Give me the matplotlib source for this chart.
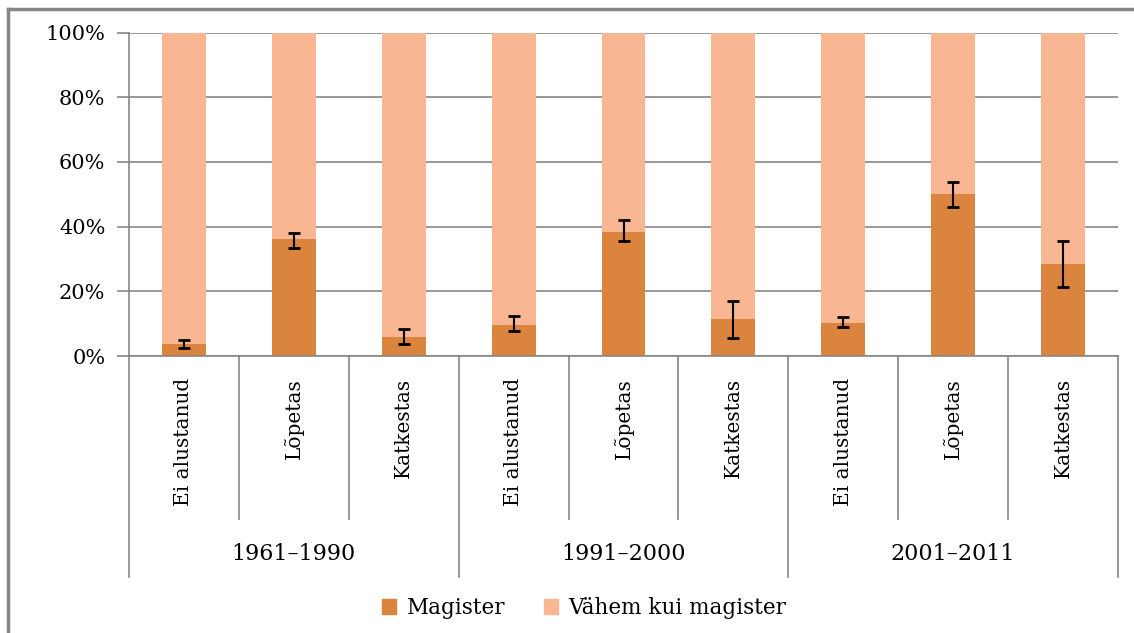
import numpy as np
import matplotlib
matplotlib.use("Agg")
import matplotlib.pyplot as plt
from matplotlib.lines import Line2D
from matplotlib.patches import Patch

# data (share of magister, %)
periods = ["1961\u20131990", "1991\u20132000", "2001\u20132011"]
groups = ["Ei alustanud", "Lõpetas", "Katkestas"]
magister = [3.8, 36.3, 5.9, 9.6, 38.3, 11.4, 10.2, 50.1, 28.4]
err_low = [2.6, 33.5, 3.8, 7.7, 35.5, 5.6, 9.0, 46.1, 21.3]
err_high = [5.0, 38.1, 8.2, 12.4, 42.1, 17.1, 12.1, 53.9, 35.6]
vahem = [100 - m for m in magister]

c_dark = "#DB843D"
c_light = "#F8B692"
grey = "#868686"

plt.rcParams['font.family'] = ['DejaVu Serif']

fig = plt.figure(figsize=(11.34, 6.33), dpi=100)
W, H = 1134, 633
ax = fig.add_axes([129 / W, (H - 356) / H, (1118 - 129) / W, (356 - 32.5) / H])

x = np.arange(len(magister))
ax.bar(x, magister, width=0.4, color=c_dark, zorder=2)
ax.bar(x, vahem, width=0.4, bottom=magister, color=c_light, zorder=2)

m = np.array(magister)
yerr = np.vstack([m - np.array(err_low), np.array(err_high) - m])
ax.errorbar(x, m, yerr=yerr, fmt="none", ecolor="black", elinewidth=1.5,
            capsize=4.5, capthick=2, zorder=3)

ax.set_xlim(-0.5, len(magister) - 0.5)
ax.set_ylim(0, 100)
ax.set_yticks(np.arange(0, 101, 20))
ax.set_yticklabels([f"{v}%" for v in range(0, 101, 20)], fontsize=15)
ax.yaxis.grid(True, color=grey, lw=1.2, zorder=0)
ax.set_axisbelow(True)
ax.tick_params(axis="y", length=9, color=grey, width=1.2, pad=8)
ax.set_xticks([])
for s in ["top", "right"]:
    ax.spines[s].set_visible(False)
ax.spines["left"].set_color(grey)
ax.spines["bottom"].set_color(grey)
ax.spines["left"].set_linewidth(1.2)
ax.spines["bottom"].set_linewidth(1.2)

# category axis labels
tr = ax.get_xaxis_transform()
for i in range(len(magister)):
    ax.text(x[i], -0.068, groups[i % 3], rotation=90, ha="center", va="top",
            fontsize=14.5, transform=tr, clip_on=False)
for j, p in enumerate(periods):
    ax.text(3 * j + 1, -0.612, p, ha="center", va="center", fontsize=16,
            transform=tr, clip_on=False)
for b in np.arange(-0.5, len(magister), 1.0):
    low = -0.683 if (b + 0.5) % 3 == 0 else -0.504
    ax.add_line(Line2D([b, b], [0, low], color=grey, lw=1.2, transform=tr,
                       clip_on=False))

handles = [Patch(color=c_dark, label="Magister"),
           Patch(color=c_light, label="Vähem kui magister")]
fig.legend(handles=handles, loc="center", bbox_to_anchor=(584 / W, 1 - 608 / H),
           ncol=2, frameon=False, fontsize=15.5, handlelength=0.65, handleheight=0.65,
           columnspacing=1.8, handletextpad=0.5)

# chart border (left and top)
fig.add_artist(Line2D([8 / W, 8 / W], [0, 1 - 9 / H], color=grey, lw=2.5))
fig.add_artist(Line2D([8 / W, 1], [1 - 9 / H, 1 - 9 / H], color=grey, lw=2.5))

fig.savefig("out.png", dpi=100)
